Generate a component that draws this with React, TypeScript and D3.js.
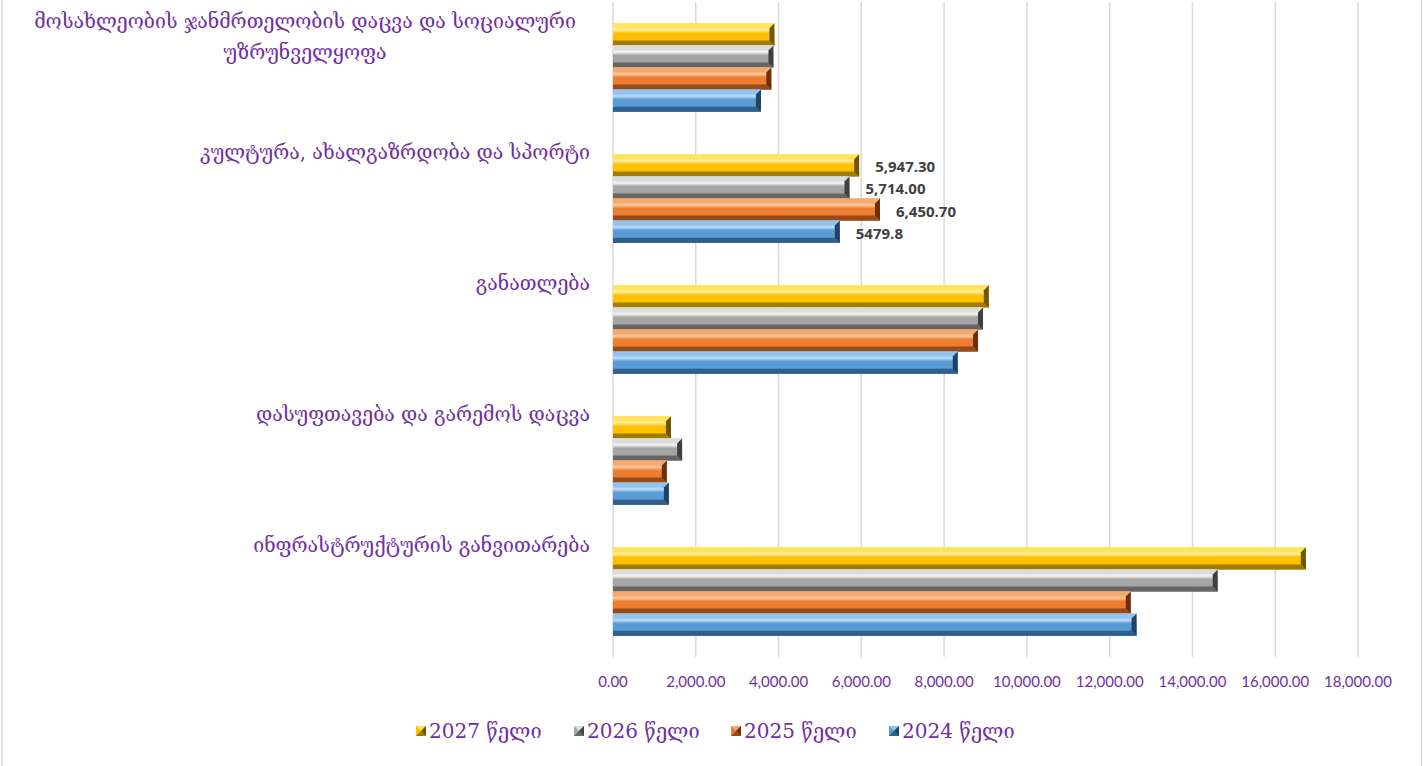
import * as d3 from "d3";

const WIDTH = 1423;
const HEIGHT = 766;
const PLOT = { left: 613, right: 1358, top: 2, bottom: 657 };

const categories = [
  "მოსახლეობის ჯანმრთელობის დაცვა და სოციალური\nუზრუნველყოფა",
  "კულტურა, ახალგაზრდობა და სპორტი",
  "განათლება",
  "დასუფთავება და გარემოს დაცვა",
  "ინფრასტრუქტურის განვითარება",
];

const series = ["2027 წელი", "2026 წელი", "2025 წელი", "2024 წელი"];

const values2027 = [3900, 5947.3, 9080, 1400, 16740];
const values2026 = [3876, 5714.0, 8940, 1670, 14610];
const values2025 = [3826, 6450.7, 8820, 1300, 12510];
const values2024 = [3575, 5479.8, 8330, 1350, 12650];
const seriesValues = [values2027, values2026, values2025, values2024];

// only the culture group carries data labels, in the source's own formatting
const labelTexts = ["5,947.30", "5,714.00", "6,450.70", "5479.8"];
const labelledCategory = 1;

const xTicks = [0, 2000, 4000, 6000, 8000, 10000, 12000, 14000, 16000, 18000];

const palette = [
  { face: "#FFC000", light: "#FFE45C", hi: "#FFF0A0", dark: "#A07C00", edge: "#6E5500" },
  { face: "#A5A5A5", light: "#DCDCDC", hi: "#F4F4F4", dark: "#666666", edge: "#404040" },
  { face: "#ED7D31", light: "#F6A96E", hi: "#FBC79A", dark: "#9A4A16", edge: "#6A300C" },
  { face: "#5B9BD5", light: "#93C3EE", hi: "#B8DAF7", dark: "#2F5F8C", edge: "#1F4266" },
];

const PURPLE = "#7030A0";
const GEO_FONT = "'DejaVu Serif', 'DejaVu Sans', serif";

const Bar = ({ x0, x1, y0, h, i }: { x0: number; x1: number; y0: number; h: number; i: number }) => {
  const c = palette[i];
  const y1 = y0 + h;
  const b = Math.min(5, (x1 - x0) / 2);
  const pts = (p: number[][]) => p.map((d) => d.join(",")).join(" ");
  return (
    <g>
      <rect x={x0} y={y0} width={x1 - x0} height={h} fill={`url(#face${i})`} />
      <polygon points={pts([[x0, y0], [x1, y0], [x1 - b, y0 + b], [x0, y0 + b]])} fill={c.light} />
      <polygon points={pts([[x0, y1], [x1, y1], [x1 - b, y1 - b], [x0, y1 - b]])} fill={c.dark} />
      <polygon points={pts([[x1, y0], [x1, y1], [x1 - b, y1 - b], [x1 - b, y0 + b]])} fill={c.edge} />
    </g>
  );
};

export default function App() {
  const x = d3.scaleLinear().domain([0, 18000]).range([PLOT.left, PLOT.right]);
  const y = d3.scaleBand().domain(d3.range(categories.length).map(String)).range([PLOT.top, PLOT.bottom]);
  const groupH = y.bandwidth() * 0.675;
  const inner = d3
    .scaleBand()
    .domain(series)
    .range([(y.bandwidth() - groupH) / 2, (y.bandwidth() + groupH) / 2]);

  const legendX = [416, 574, 731, 889];

  return (
    <div style={{ position: "fixed", left: 0, top: 0 }}>
      <svg width={WIDTH} height={HEIGHT} style={{ display: "block", background: "#fff" }}>
        <defs>
          {palette.map((c, i) => (
            <linearGradient key={i} id={`face${i}`} x1="0" y1="0" x2="0" y2="1">
              <stop offset="0%" stopColor={c.light} />
              <stop offset="30%" stopColor={c.hi} />
              <stop offset="45%" stopColor={c.face} />
              <stop offset="80%" stopColor={c.face} />
              <stop offset="100%" stopColor={c.dark} />
            </linearGradient>
          ))}
        </defs>

        <rect x={2} y={-2} width={WIDTH - 3.5} height={HEIGHT + 4} fill="none" stroke="#D9D9D9" strokeWidth={1.5} />

        {xTicks.map((t) => (
          <g key={t}>
            <line x1={x(t)} x2={x(t)} y1={PLOT.top} y2={PLOT.bottom} stroke="#D9D9D9" strokeWidth={1.5} />
            <text
              x={x(t)}
              y={681}
              textAnchor="middle"
              dominantBaseline="central"
              fontFamily="Lato, 'Open Sans', sans-serif"
              fontSize={15}
              fill={PURPLE}
            >
              {d3.format(",.2f")(t)}
            </text>
          </g>
        ))}

        {categories.map((cat, ci) => {
          const top = y(String(ci))!;
          const lines = cat.split("\n");
          const multi = lines.length > 1;
          return (
            <g key={ci}>
              {lines.map((ln, li) => (
                <text
                  key={li}
                  x={multi ? 305 : 590}
                  y={top + 19 + li * 31}
                  textAnchor={multi ? "middle" : "end"}
                  dominantBaseline="central"
                  fontFamily={GEO_FONT}
                  fontSize={19.5}
                  fill={PURPLE}
                >
                  {ln}
                </text>
              ))}
              {series.map((s, si) => {
                const v = seriesValues[si][ci];
                const by = top + inner(s)!;
                return (
                  <g key={s}>
                    <Bar x0={x(0)} x1={x(v)} y0={by} h={inner.bandwidth()} i={si} />
                    {ci === labelledCategory && (
                      <text
                        x={x(v) + 16}
                        y={by + inner.bandwidth() / 2 + 1}
                        dominantBaseline="central"
                        fontFamily="'Open Sans', Lato, sans-serif"
                        fontWeight="bold"
                        fontSize={15}
                        fill="#404040"
                      >
                        {labelTexts[si]}
                      </text>
                    )}
                  </g>
                );
              })}
            </g>
          );
        })}

        {series.map((s, si) => {
          const c = palette[si];
          const lx = legendX[si];
          return (
            <g key={s} transform={`translate(${lx},731)`}>
              <rect x={0} y={-5} width={10} height={10} fill={c.face} />
              <polygon points="0,-5 10,-5 5,0" fill={c.light} />
              <polygon points="0,5 10,5 5,0" fill={c.dark} />
              <polygon points="10,-5 10,5 5,0" fill={c.edge} />
              <text
                x={13}
                y={0}
                dominantBaseline="central"
                fontFamily={GEO_FONT}
                fontSize={20}
                fill={PURPLE}
              >
                {s}
              </text>
            </g>
          );
        })}
      </svg>
    </div>
  );
}
